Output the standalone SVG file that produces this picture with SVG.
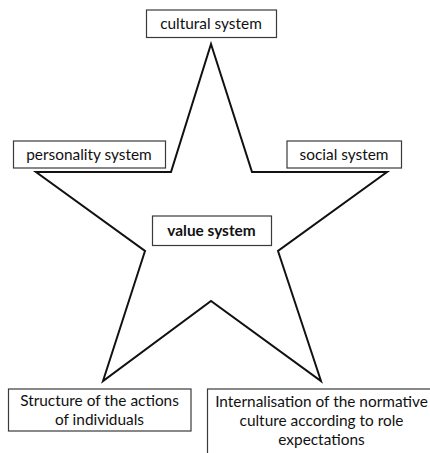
<svg xmlns="http://www.w3.org/2000/svg" width="430" height="453" viewBox="0 0 430 453">
<style>
.box{fill:#fff;stroke:#3a3a3a;stroke-width:1.2}
.t{font-family:Lato,"Open Sans","Liberation Sans",sans-serif;font-size:15.4px;fill:#111;text-anchor:middle}
.b{font-weight:bold}
.star{fill:none;stroke:#111;stroke-width:2;stroke-linejoin:miter}
</style>
<rect width="430" height="453" fill="#fff"/>
<g id="connectors">
<polygon class="star" points="211,44 252,172 387,172 278,251 321,381 211,301 103,381 145,251 36,172 171,172"/>
</g>
<g id="cultural">
<rect class="box" x="146.5" y="10" width="130" height="27.5"/>
<text class="t" x="211" y="28.5">cultural system</text>
</g>
<g id="personality">
<rect class="box" x="13.5" y="141" width="152" height="27"/>
<text class="t" x="89" y="160">personality system</text>
</g>
<g id="social">
<rect class="box" x="287" y="141" width="114.5" height="27"/>
<text class="t" x="344" y="160">social system</text>
</g>
<g id="value">
<rect class="box" x="152.5" y="216" width="119" height="29.5"/>
<text class="t b" x="211.5" y="235.5">value system</text>
</g>
<g id="structure">
<rect class="box" x="8.5" y="389" width="182.5" height="42"/>
<text class="t" x="99.5" y="406">Structure of the actions</text>
<text class="t" x="99.5" y="424.5">of individuals</text>
</g>
<g id="internalisation">
<rect class="box" x="207.5" y="389" width="230" height="70"/>
<text class="t" x="321.5" y="406.5">Internalisation of the normative</text>
<text class="t" x="321.5" y="425.5">culture according to role</text>
<text class="t" x="321.5" y="444.5">expectations</text>
</g>
</svg>
